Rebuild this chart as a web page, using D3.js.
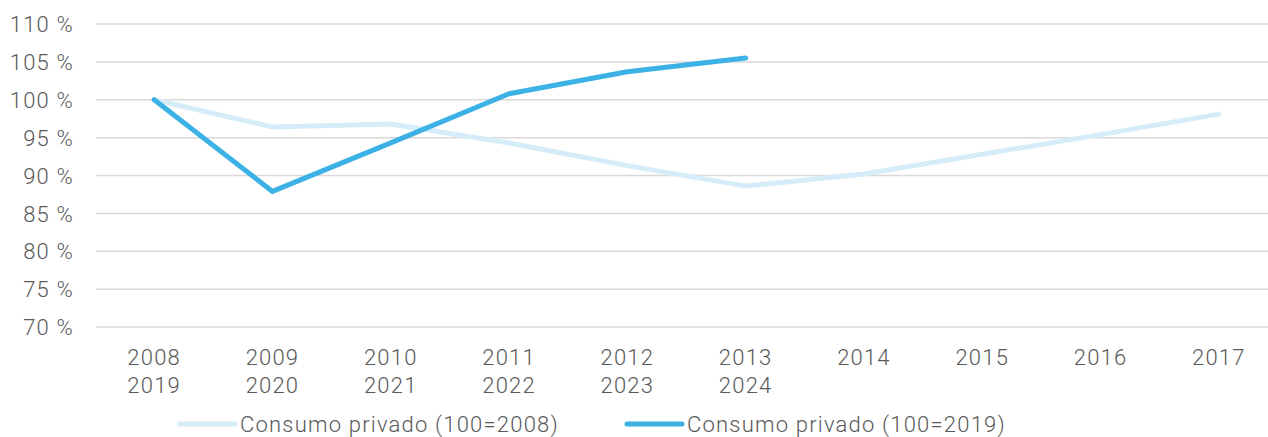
<!DOCTYPE html>
<html><head><meta charset="utf-8">
<script src="https://cdn.jsdelivr.net/npm/d3@7"></script>
<style>
html,body{margin:0;padding:0;background:#fff;}
svg text{font-family:Roboto,"Liberation Sans",sans-serif;font-weight:300;fill:#595959;letter-spacing:1.2px;}
</style></head>
<body><svg id="c" width="1268" height="437"></svg>
<script>
const yearsA = ["2008","2009","2010","2011","2012","2013","2014","2015","2016","2017"];
const yearsB = ["2019","2020","2021","2022","2023","2024","","","",""];
const seriesA = [100, 96.4, 96.8, 94.3, 91.3, 88.6, 90.2, 92.8, 95.4, 98.1];
const seriesB = [100, 87.9, 94.3, 100.8, 103.7, 105.5];
const yTicks = [70, 75, 80, 85, 90, 95, 100, 105, 110];
const legendLabels = ["Consumo privado (100=2008)", "Consumo privado (100=2019)"];
const colors = ["#d6edf9", "#3cb1e6"];

const FS = 22;
const svg = d3.select("#c");
const x = d3.scaleBand().domain(d3.range(yearsA.length)).range([95, 1278]);
const y = d3.scaleLinear().domain([70, 110]).range([327, 24]);

const grid = svg.append("g");
grid.selectAll("line").data(yTicks).join("line")
  .attr("x1", 96).attr("x2", 1268)
  .attr("y1", d => y(d)).attr("y2", d => y(d))
  .attr("stroke", "#d9d9d9").attr("stroke-width", 1.5);

const yAxis = d3.axisLeft(y).tickValues(yTicks).tickSize(0).tickPadding(0).tickFormat(d => d + " %");
const ya = svg.append("g").attr("transform", "translate(74,0)").call(yAxis);
ya.select(".domain").remove();
ya.selectAll("text").attr("font-size", FS).attr("font-family", null).attr("dy", "0.35em");

const cx = i => x(i) + x.bandwidth() / 2;
const xg = svg.append("g");
xg.selectAll("text.a").data(yearsA).join("text").attr("class", "a")
  .attr("x", (d, i) => cx(i)).attr("y", 357).attr("dy", "0.35em")
  .attr("text-anchor", "middle").attr("font-size", FS).text(d => d);
xg.selectAll("text.b").data(yearsB).join("text").attr("class", "b")
  .attr("x", (d, i) => cx(i)).attr("y", 385).attr("dy", "0.35em")
  .attr("text-anchor", "middle").attr("font-size", FS).text(d => d);

const line = d3.line().x((d, i) => cx(i)).y(d => y(d));
[seriesA, seriesB].forEach((s, k) => {
  svg.append("path").datum(s).attr("d", line)
    .attr("fill", "none").attr("stroke", colors[k]).attr("stroke-width", 5)
    .attr("stroke-linecap", "round").attr("stroke-linejoin", "round");
});

const legX = [180, 627];
legendLabels.forEach((t, k) => {
  const g = svg.append("g").attr("transform", `translate(${legX[k]},424)`);
  g.append("line").attr("x1", 0).attr("x2", 55).attr("y1", 0).attr("y2", 0)
    .attr("stroke", colors[k]).attr("stroke-width", 5).attr("stroke-linecap", "round");
  g.append("text").attr("x", 60).attr("y", 0).attr("dy", "0.35em").attr("font-size", FS).text(t);
});
</script></body></html>
